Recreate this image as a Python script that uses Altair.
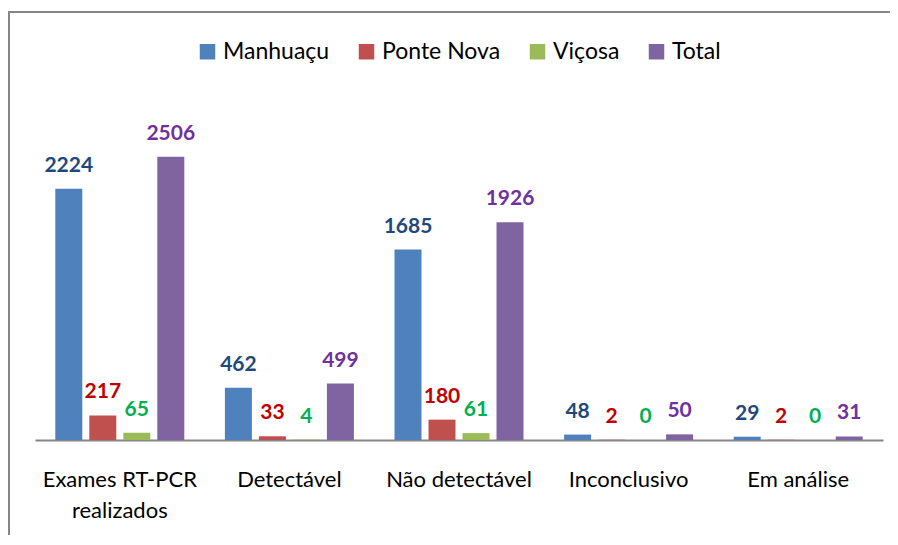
import altair as alt
import pandas as pd

categories = ["Exames RT-PCR realizados", "Detectável", "Não detectável", "Inconclusivo", "Em análise"]
series = ["Manhuaçu", "Ponte Nova", "Viçosa", "Total"]
manhuacu = [2224, 462, 1685, 48, 29]
ponte_nova = [217, 33, 180, 2, 2]
vicosa = [65, 4, 61, 0, 0]
total = [2506, 499, 1926, 50, 31]

bar_colors = ["#4F81BD", "#C0504D", "#9BBB59", "#8064A2"]
label_colors = ["#1F497D", "#C00000", "#00B050", "#7030A0"]

rows = []
for name, vals in zip(series, [manhuacu, ponte_nova, vicosa, total]):
    for c, v in zip(categories, vals):
        rows.append({"category": c, "series": name, "value": v})
df = pd.DataFrame(rows)

W, H = 848, 339
PAD_L, PAD_T, PAD_R, PAD_B = 27, 93, 7, 95
FONT = "Lato"

x_enc = alt.X(
    "category:N", sort=categories,
    scale=alt.Scale(paddingInner=0, paddingOuter=0),
    axis=alt.Axis(
        title=None, ticks=False, domainColor="#868686", domainWidth=2,
        labelFont=FONT, labelFontSize=22, labelColor="#000000", labelAngle=0,
        labelPadding=29, labelLimit=300, labelLineHeight=31,
        labelExpr="datum.value == 'Exames RT-PCR realizados' ? ['Exames RT-PCR', 'realizados'] : datum.label",
    ),
)
xoff = alt.XOffset("series:N", sort=series, scale=alt.Scale(paddingInner=0.206, paddingOuter=0.597))
y_enc = alt.Y("value:Q", scale=alt.Scale(domain=[0, 3000], nice=False), axis=None)

base = alt.Chart(df)

bars = base.mark_bar().encode(
    x=x_enc, xOffset=xoff, y=y_enc,
    color=alt.Color(
        "series:N", sort=series,
        scale=alt.Scale(domain=series, range=bar_colors),
        legend=alt.Legend(
            title=None, orient="none", direction="horizontal",
            legendX=161, legendY=-61,
            symbolType="square", symbolSize=240, symbolStrokeWidth=0,
            labelFont=FONT, labelFontSize=23, labelColor="#000000",
            columnPadding=25, symbolOffset=0, labelOffset=4,
        ),
    ),
)

labels = base.mark_text(baseline="alphabetic", dy=-17, fontWeight="bold", fontSize=21, font=FONT).encode(
    x=x_enc, xOffset=xoff, y=y_enc,
    text=alt.Text("value:Q"),
    color=alt.Color("series:N", sort=series, scale=alt.Scale(domain=series, range=label_colors), legend=None),
)

frame_df = pd.DataFrame({"a": [0]})
left_border = alt.Chart(frame_df).mark_rule(color="#868686", strokeWidth=2).encode(
    x=alt.value(-26), y=alt.value(-89), y2=alt.value(H + PAD_B)
)
top_border = alt.Chart(frame_df).mark_rule(color="#868686", strokeWidth=2).encode(
    x=alt.value(-27), x2=alt.value(W + PAD_R), y=alt.value(-89)
)

chart = alt.layer(left_border, top_border, bars, labels).resolve_scale(color="independent").properties(
    width=W, height=H,
    autosize=alt.AutoSizeParams(type="none"),
    padding={"left": PAD_L, "top": PAD_T, "right": PAD_R, "bottom": PAD_B},
    background="white",
).configure_view(stroke=None)

chart.save("out.html", embed_options={"renderer": "svg", "actions": False})
